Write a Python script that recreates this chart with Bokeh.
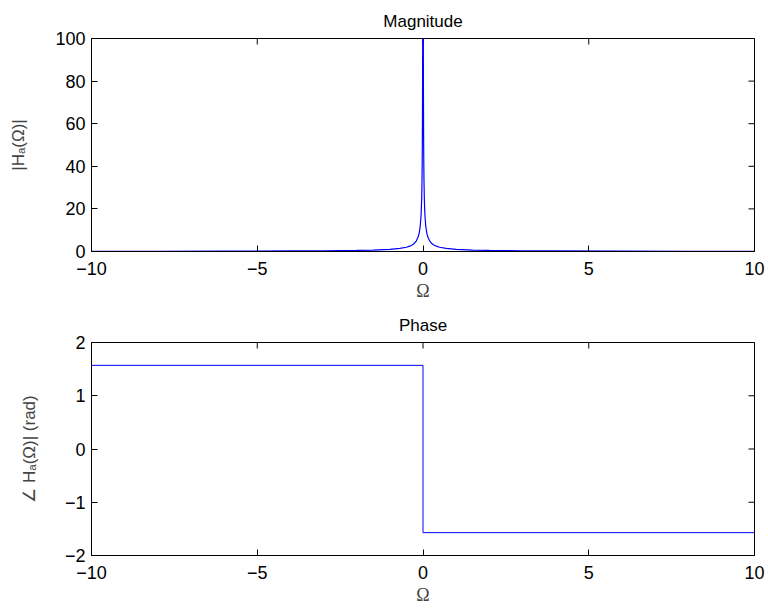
import math
from bokeh.plotting import figure
from bokeh.models import Range1d, FixedTicker, ColumnDataSource
from bokeh.layouts import column
from bokeh.embed import file_html
from bokeh.resources import INLINE

# ---- data ----
omega_mag = [-10, -8, -6, -4, -3, -2, -1.5, -1, -0.7, -0.5, -0.4, -0.3, -0.25, -0.2,
             -0.15, -0.12, -0.1, -0.08, -0.06, -0.05, -0.04, -0.03, -0.025, -0.02,
             -0.015, -0.012, -0.01,
             0.01, 0.012, 0.015, 0.02, 0.025, 0.03, 0.04, 0.05, 0.06, 0.08, 0.1,
             0.12, 0.15, 0.2, 0.25, 0.3, 0.4, 0.5, 0.7, 1, 1.5, 2, 3, 4, 6, 8, 10]
magnitude = [0.1, 0.125, 0.167, 0.25, 0.33, 0.5, 0.67, 1.0, 1.43, 2.0, 2.5, 3.3, 4.0, 5.0,
             6.7, 8.3, 10, 12.5, 16.7, 20, 25, 33, 40, 50,
             67, 83, 100,
             100, 83, 67, 50, 40, 33, 25, 20, 16.7, 12.5, 10,
             8.3, 6.7, 5.0, 4.0, 3.3, 2.5, 2.0, 1.43, 1.0, 0.67, 0.5, 0.33, 0.25, 0.167, 0.125, 0.1]

omega_phase = [-10, 0, 0, 10]
phase = [1.5708, 1.5708, -1.5708, -1.5708]

x_ticks = [-10, -5, 0, 5, 10]
x_tick_labels = ["\u221210", "\u22125", "0", "5", "10"]
mag_ticks = [0, 20, 40, 60, 80, 100]
mag_tick_labels = ["0", "20", "40", "60", "80", "100"]
phase_ticks = [-2, -1, 0, 1, 2]
phase_tick_labels = ["\u22122", "\u22121", "0", "1", "2"]

FONT = "Liberation Sans"
TICK_SIZE = "18px"


def style_axis(ax, ticks, labels):
    ax.ticker = FixedTicker(ticks=ticks)
    ax.major_tick_in = 6
    ax.major_tick_out = 0
    ax.minor_tick_in = 0
    ax.minor_tick_out = 0
    ax.axis_line_color = "black"
    ax.major_tick_line_color = "black"
    ax.major_label_text_font = FONT
    ax.major_label_text_color = "black"
    ax.major_label_text_font_size = TICK_SIZE
    ax.major_label_overrides = {t: l for t, l in zip(ticks, labels)}


def make_fig(title, ylabel, yticks, ylabels, yrange, top_border, bottom_border,
             ylabel_standoff, title_standoff):
    x0, x1 = -10, 10
    p = figure(frame_width=663, frame_height=213,
               x_range=Range1d(x0, x1), y_range=Range1d(*yrange),
               output_backend="svg", toolbar_location=None,
               min_border_left=91, min_border_right=12,
               min_border_top=top_border, min_border_bottom=bottom_border,
               title=title)
    p.title.align = "center"
    p.title.text_font = FONT
    p.title.text_font_size = "17px"
    p.title.text_font_style = "normal"
    p.title.text_color = "black"
    p.title.standoff = title_standoff
    p.grid.visible = False
    p.outline_line_color = "black"
    p.outline_line_alpha = 1.0
    p.background_fill_color = "white"
    p.border_fill_color = "white"

    style_axis(p.xaxis[0], x_ticks, x_tick_labels)
    p.xaxis[0].major_label_standoff = 10
    p.xaxis[0].axis_label = "\u03a9"
    p.xaxis[0].axis_label_text_font = "Liberation Serif"
    p.xaxis[0].axis_label_text_font_style = "normal"
    p.xaxis[0].axis_label_text_font_size = "18px"
    p.xaxis[0].axis_label_text_line_height = 0.7
    p.xaxis[0].axis_label_standoff = 3

    style_axis(p.yaxis[0], yticks, ylabels)
    p.yaxis[0].major_label_standoff = 6
    p.yaxis[0].axis_label = ylabel
    p.yaxis[0].axis_label_text_font = FONT
    p.yaxis[0].axis_label_text_font_style = "normal"
    p.yaxis[0].axis_label_text_font_size = "17px"
    p.yaxis[0].axis_label_standoff = ylabel_standoff

    # inward ticks on the top and right edges of the box (half of each dash is clipped by the frame)
    p.scatter(x=x_ticks, y=[yrange[1]] * len(x_ticks), marker="dash", size=12,
              angle=math.pi / 2, line_color="black", line_width=1)
    p.scatter(x=[x1] * len(yticks), y=yticks, marker="dash", size=12,
              line_color="black", line_width=1)
    return p


p1 = make_fig("Magnitude", "|H\u2090(\u03a9)|", mag_ticks, mag_tick_labels, (0, 100),
              38, 54, 24, 16)
src1 = ColumnDataSource(dict(x=omega_mag, y=magnitude))
p1.line("x", "y", source=src1, line_color="#0000ff", line_width=1.2)

p2 = make_fig("Phase", "\u2220 H\u2090(\u03a9)| (rad)", phase_ticks, phase_tick_labels, (-2, 2),
              36, 45, 23, 16)
src2 = ColumnDataSource(dict(x=omega_phase, y=phase))
p2.line("x", "y", source=src2, line_color="#0000ff", line_width=1)

layout = column(p1, p2, spacing=0)
open("out.html", "w").write(file_html(layout, INLINE))
